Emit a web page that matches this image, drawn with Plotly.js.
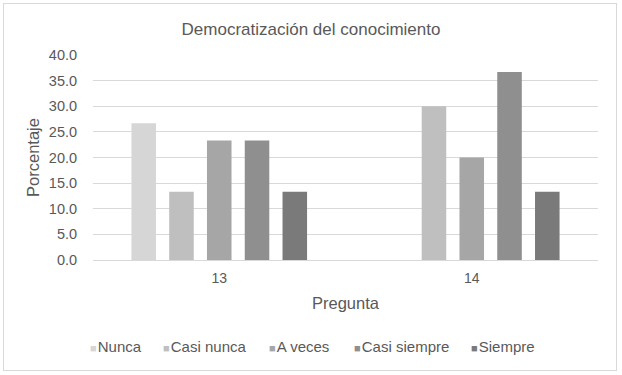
<!DOCTYPE html>
<html><head><meta charset="utf-8">
<script src="https://cdn.plot.ly/plotly-3.0.1.min.js"></script>
<style>body{margin:0;padding:0;background:#fff}#wrap{position:relative;width:622px;height:375px}
#frame{position:absolute;left:3px;top:3px;width:612px;height:366px;border:1px solid #d9d9d9;pointer-events:none}</style>
</head><body>
<div id="wrap"><div id="chart" style="width:622px;height:375px"></div><div id="frame"></div></div>
<script>
const categories = ["13", "14"];
const seriesNames = ["Nunca", "Casi nunca", "A veces", "Casi siempre", "Siempre"];
const nunca = [26.7, 0];
const casiNunca = [13.3, 30.0];
const aVeces = [23.3, 20.0];
const casiSiempre = [23.3, 36.7];
const siempre = [13.3, 13.3];
const colors = ["#d6d6d6", "#bfbfbf", "#a6a6a6", "#8f8f8f", "#7a7a7a"];
const values = [nunca, casiNunca, aVeces, casiSiempre, siempre];

const traces = seriesNames.map((n, i) => ({
  type: "bar", name: n, x: categories, y: values[i],
  marker: {color: colors[i], line: {width: 0}},
  hoverinfo: "y", showlegend: false
}));

// custom legend (small squares like the original)
const plotL = 93, plotW = 505;
const legendPx = [88, 161, 267, 352, 469];
const annotations = seriesNames.map((n, i) => ({
  xref: "paper", yref: "paper",
  x: (legendPx[i] - plotL) / plotW, y: -0.42,
  xanchor: "left", yanchor: "middle", showarrow: false,
  text: `<span style="color:${colors[i]};font-size:11px">■</span><span style="font-size:4px"> </span>${n}`,
  font: {size: 15, color: "#595959"}
}));

const layout = {
  width: 622, height: 375,
  margin: {l: 93, r: 24, t: 55, b: 115},
  paper_bgcolor: "#fff", plot_bgcolor: "#fff",
  font: {family: "Liberation Sans, Arial, sans-serif", color: "#595959", size: 14},
  title: {text: "Democratización del conocimiento", x: 0.5, xanchor: "center", y: 0.922, yanchor: "middle",
          font: {size: 17, color: "#595959"}},
  barmode: "group", bargap: 0.252, bargroupgap: 0.35,
  xaxis: {type: "category", showgrid: false, showline: false, zeroline: false,
          ticks: "outside", ticklen: 5, tickcolor: "rgba(0,0,0,0)",
          tickfont: {size: 14, color: "#595959"},
          title: {text: "Pregunta", font: {size: 16.5, color: "#595959"}, standoff: 12}},
  yaxis: {range: [0, 40], dtick: 5, tickformat: ".1f", showgrid: true, gridcolor: "#d9d9d9", gridwidth: 1,
          zeroline: true, zerolinecolor: "#d9d9d9", zerolinewidth: 1, showline: false,
          ticks: "outside", ticklen: 12, tickcolor: "rgba(0,0,0,0)",
          tickfont: {size: 14.5, color: "#595959"},
          title: {text: "Porcentaje", font: {size: 16.5, color: "#595959"}, standoff: 5}},
  annotations: annotations,
  showlegend: false
};
Plotly.newPlot("chart", traces, layout, {displayModeBar: false, staticPlot: true});
</script>
</body></html>
